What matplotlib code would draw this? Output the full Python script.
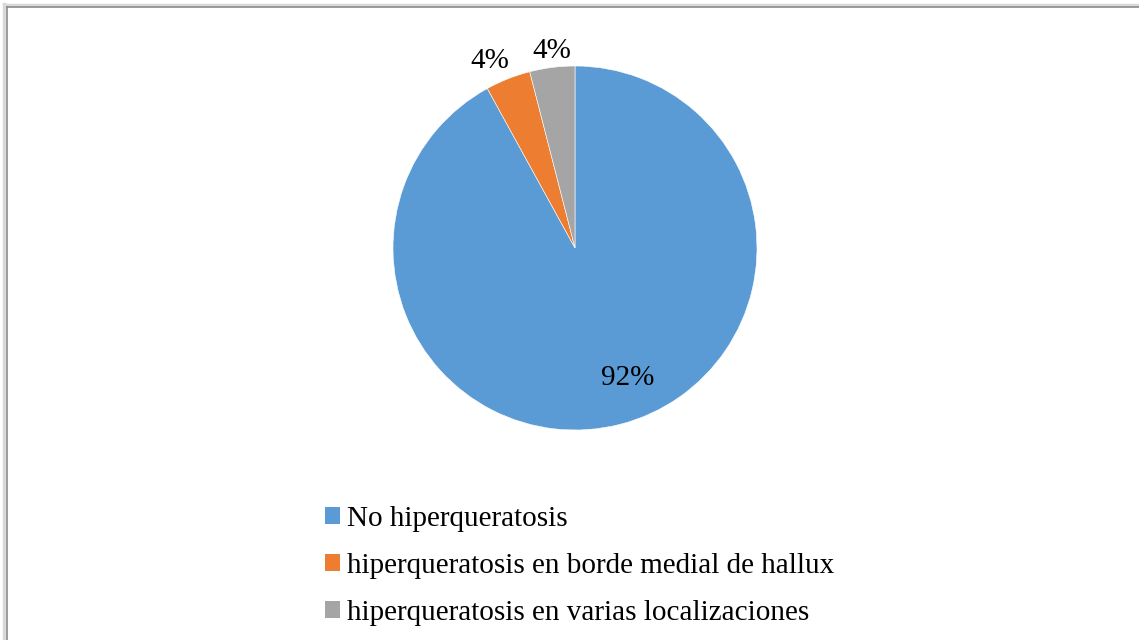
import numpy as np
import matplotlib.pyplot as plt
from matplotlib.patches import Patch
from matplotlib.lines import Line2D

categorias = ['No hiperqueratosis',
              'hiperqueratosis en borde medial de hallux',
              'hiperqueratosis en varias localizaciones']
porcentajes = [92, 4, 4]
colores = ['#5B9BD5', '#ED7D31', '#A5A5A5']
dist_etiqueta = [0.77, 1.13, 1.09]
giro_etiqueta = [7.5, 3.0, -0.5]

plt.rcParams['font.family'] = ['Liberation Serif', 'DejaVu Serif']

W, H = 1139, 640
fig = plt.figure(figsize=(W / 100, H / 100), dpi=100)

# marco gris alrededor del grafico
fig.add_artist(Line2D([4 / W, 4 / W], [0, 1 - 4 / H], color='#d9d9d9', lw=2.5))
fig.add_artist(Line2D([4 / W, 1], [1 - 5 / H, 1 - 5 / H], color='#d9d9d9', lw=2.5))
fig.add_artist(Line2D([6.5 / W, 6.5 / W], [0, 1 - 6.5 / H], color='#8c8c8c', lw=1.2))
fig.add_artist(Line2D([6.5 / W, 1], [1 - 6.5 / H, 1 - 6.5 / H], color='#8c8c8c', lw=1.2))

cx, cy, r = 575, 248, 182
ax = fig.add_axes([(cx - r) / W, (H - cy - r) / H, 2 * r / W, 2 * r / H])
wedges, _ = ax.pie(porcentajes, colors=colores, startangle=90, counterclock=False,
                   radius=1, wedgeprops=dict(edgecolor='white', linewidth=0.4))
ax.set_xlim(-1, 1)
ax.set_ylim(-1, 1)
ax.axis('off')

for w, p, d, g in zip(wedges, porcentajes, dist_etiqueta, giro_etiqueta):
    ang = np.deg2rad((w.theta1 + w.theta2) / 2 + g)
    ax.text(d * np.cos(ang), d * np.sin(ang), f'{p}%', ha='center', va='center',
            fontsize=21, color='black')

handles = [Patch(facecolor=c, edgecolor='none') for c in colores]
fig.legend(handles, categorias, loc='upper left',
           bbox_to_anchor=(325 / W, 1 - 506 / H), frameon=False,
           fontsize=21, handlelength=0.52, handleheight=0.52,
           handletextpad=0.24, labelspacing=0.72, borderpad=0, borderaxespad=0)

fig.savefig('out.png', dpi=100)
